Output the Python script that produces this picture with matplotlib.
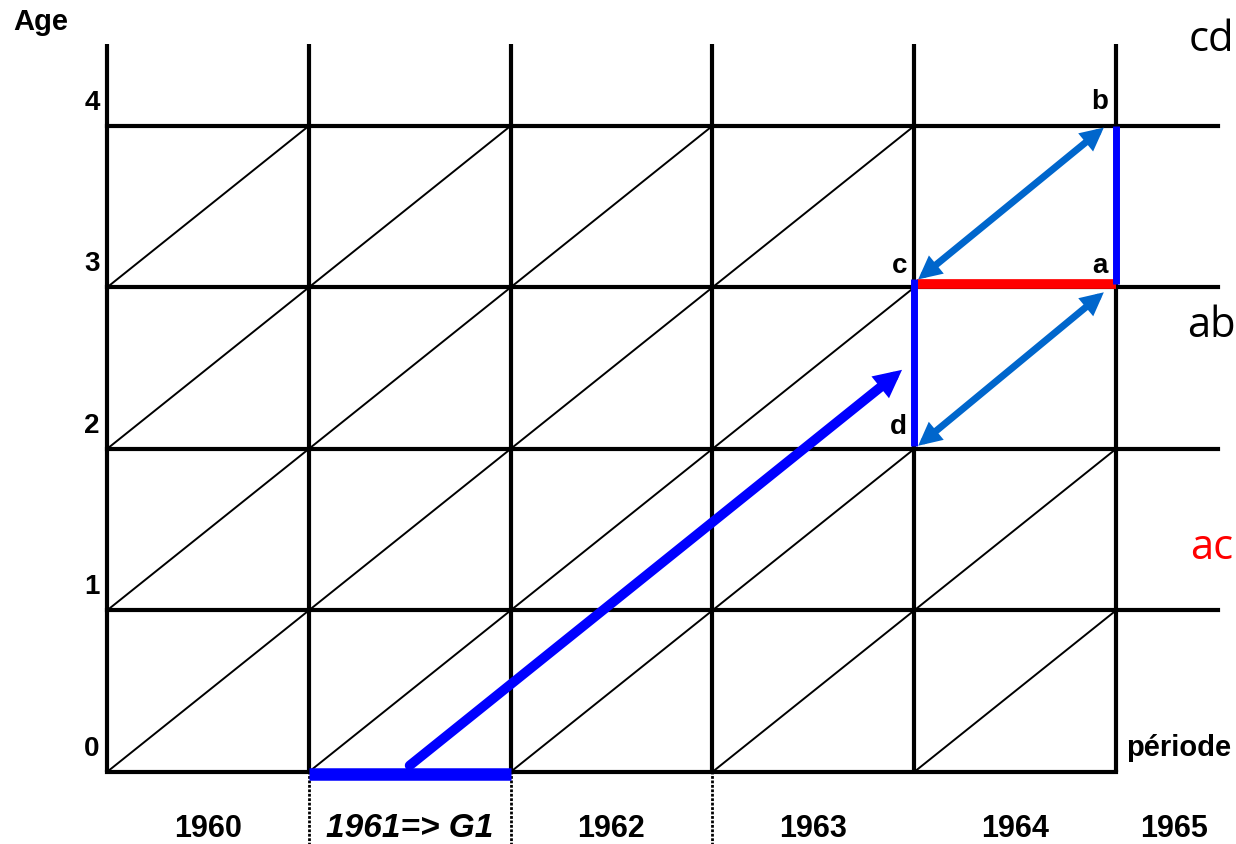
import matplotlib
matplotlib.use("Agg")
from matplotlib import pyplot as plt

# Lexis diagram data
years = [1960, 1961, 1962, 1963, 1964, 1965]
ages = [0, 1, 2, 3, 4]
year_labels = ['1960', '1961=> G1', '1962', '1963', '1964', '1965']
age_labels = ['0', '1', '2', '3', '4']

# points of the parallelogram a, b, c, d
pt_a = (1965, 3)
pt_b = (1965, 4)
pt_c = (1964, 3)
pt_d = (1964, 2)

# cohort G1 born in 1961
cohort_start = (1961.5, 0.04)
cohort_end = (1963.94, 2.49)

bold = ['Liberation Sans', 'DejaVu Sans']

fig = plt.figure(figsize=(12.36, 8.45), dpi=100)
ax = fig.add_axes([0, 0, 1, 1])
ax.set_xlim(1959.470, 1965.595)
ax.set_ylim(-0.4458, 4.786)
ax.axis('off')

# grid
top = 4.508
right = 1965.505
for yr in years:
    ax.plot([yr, yr], [0, top], color='black', lw=3, solid_capstyle='butt', zorder=1)
for ag in ages:
    x_end = years[-1] if ag == 0 else right
    ax.plot([years[0], x_end], [ag, ag], color='black', lw=3, solid_capstyle='projecting', zorder=1)

# diagonals (lifelines); the two cells under the double arrows are covered
for yr in years[:-1]:
    for ag in ages[:-1]:
        if yr == 1964 and ag in (2, 3):
            continue
        ax.plot([yr, yr + 1], [ag, ag + 1], color='black', lw=1.4, zorder=1)

# dotted marks under the axis
for yr in years[1:4]:
    ax.plot([yr, yr], [-0.45, 0], color='black', lw=2, ls=(0, (1, 0.6)), zorder=1)

# cohort segment + lifeline arrow
ax.plot([1961, 1962], [-0.01, -0.01], color='#0000FF', lw=9, solid_capstyle='butt', zorder=3)
ax.annotate('', xy=cohort_end, xytext=cohort_start,
            arrowprops=dict(arrowstyle='-|>', lw=7, color='#0000FF', mutation_scale=22,
                            shrinkA=0, shrinkB=0, joinstyle='miter'), zorder=4)

# red segment a-c, blue segments a-b and c-d
ax.plot([pt_c[0] + 0.015, pt_a[0]], [pt_a[1] + 0.02, pt_a[1] + 0.02], color='#FF0000', lw=7,
        solid_capstyle='butt', zorder=3)
ax.plot([pt_a[0], pt_b[0]], [pt_a[1] + 0.02, pt_b[1]], color='#0000FF', lw=5,
        solid_capstyle='butt', zorder=3)
ax.plot([pt_c[0], pt_d[0]], [pt_c[1] + 0.05, pt_d[1] + 0.02], color='#0000FF', lw=5,
        solid_capstyle='butt', zorder=3)

# double arrows
for p0, p1 in [((1964.02, 3.05), (1964.94, 3.99)), ((1964.02, 2.02), (1964.94, 2.97))]:
    ax.annotate('', xy=p1, xytext=p0,
                arrowprops=dict(arrowstyle='<|-|>', lw=5, color='#0066CC', mutation_scale=22,
                                shrinkA=0, shrinkB=0, joinstyle='miter'), zorder=4)

# tick labels
for ag, lab in zip(ages, age_labels):
    ax.text(1959.926, ag + 0.15, lab, family=bold, weight='bold', fontsize=20,
            ha='center', va='center')
ax.text(1959.67, 4.65, 'Age', family=bold, weight='bold', fontsize=21, ha='center', va='center')
for yr, lab in zip(years, year_labels):
    xpos = yr + 0.5 if yr < 1965 else 1965.29
    if 'G1' in lab:
        ax.text(xpos, -0.345, lab, family=bold, weight='bold', style='italic', fontsize=24,
                ha='center', va='center')
    else:
        ax.text(xpos, -0.345, lab, family=bold, weight='bold', fontsize=22,
                ha='center', va='center')
ax.text(1965.312, 0.155, 'période', family=bold, weight='bold', fontsize=21, ha='center', va='center')

# point letters
for lab, (px, py) in [('b', (1964.92, 4.155)), ('c', (1963.93, 3.14)),
                      ('a', (1964.92, 3.14)), ('d', (1963.92, 2.14))]:
    ax.text(px, py, lab, family=bold, weight='bold', fontsize=20, ha='center', va='center')

# right-hand labels
for lab, py, col in [('cd', 4.54, 'black'), ('ab', 2.77, 'black'), ('ac', 1.39, '#FF0000')]:
    ax.text(1965.475, py, lab, family=['Open Sans', 'DejaVu Sans'], fontsize=30, color=col,
            ha='center', va='center')

fig.savefig('out.png', dpi=100)
